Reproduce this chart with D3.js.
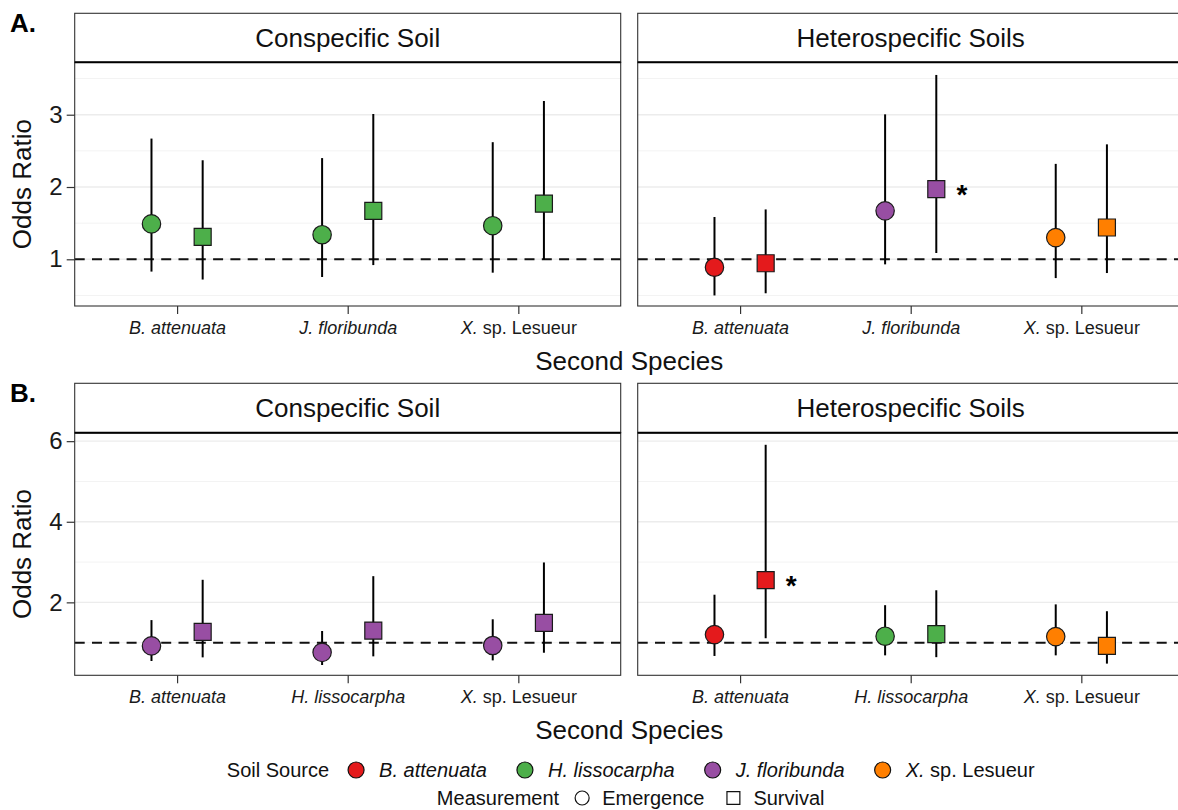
<!DOCTYPE html>
<html lang="en">
<head>
<meta charset="UTF-8">
<title>Odds ratios by soil source</title>
<style>
  body { margin: 0; background: #fff; }
  svg { display: block; font-family: "Liberation Sans", Arial, Helvetica, sans-serif; }
</style>
</head>
<body>
<svg width="1178" height="810"></svg>
<script src="https://cdnjs.cloudflare.com/ajax/libs/d3/7.8.5/d3.min.js"></script>
<script>
// ---- data ----
const soilTypes = ['Conspecific Soil', 'Heterospecific Soils'];
const soilSources = ['B. attenuata', 'H. lissocarpha', 'J. floribunda', 'X. sp. Lesueur'];
const measurements = ['Emergence', 'Survival'];

const speciesA = ['B. attenuata', 'J. floribunda', 'X. sp. Lesueur'];
const speciesB = ['B. attenuata', 'H. lissocarpha', 'X. sp. Lesueur'];

// each entry: [odds ratio, lower, upper]
const aConEmergence = [[1.49, 0.83, 2.67], [1.34, 0.755, 2.40], [1.465, 0.815, 2.62]];
const aConSurvival  = [[1.31, 0.72, 2.37], [1.67, 0.92, 3.01], [1.77, 1.00, 3.19]];
const aConSource    = ['H. lissocarpha', 'H. lissocarpha', 'H. lissocarpha'];
const aHetEmergence = [[0.89, 0.50, 1.585], [1.67, 0.93, 3.005], [1.30, 0.74, 2.32]];
const aHetSurvival  = [[0.945, 0.53, 1.69], [1.97, 1.087, 3.55], [1.44, 0.81, 2.59]];
const aHetSource    = ['B. attenuata', 'J. floribunda', 'X. sp. Lesueur'];
const aHetSig       = [false, true, false];   // asterisk next to survival

const bConEmergence = [[0.92, 0.545, 1.56], [0.76, 0.445, 1.29], [0.93, 0.56, 1.58]];
const bConSurvival  = [[1.27, 0.635, 2.56], [1.30, 0.66, 2.65], [1.49, 0.75, 2.99]];
const bConSource    = ['J. floribunda', 'J. floribunda', 'J. floribunda'];
const bHetEmergence = [[1.20, 0.67, 2.19], [1.16, 0.685, 1.93], [1.15, 0.685, 1.95]];
const bHetSurvival  = [[2.55, 1.11, 5.91], [1.21, 0.64, 2.30], [0.92, 0.48, 1.78]];
const bHetSource    = ['B. attenuata', 'H. lissocarpha', 'X. sp. Lesueur'];
const bHetSig       = [true, false, false];

const yDomainA = [0.354, 3.725], yTicksA = [1, 2, 3], yMinorA = [0.5, 1.5, 2.5, 3.5];
const yDomainB = [0.19, 6.21],   yTicksB = [2, 4, 6], yMinorB = [1, 3, 5];

// ---- setup ----
const svg = d3.select('svg');
svg.append('rect').attr('width', 1178).attr('height', 810).attr('fill', '#fff');

const soilColor = d3.scaleOrdinal()
  .domain(soilSources)
  .range(['#e41a1c', '#4daf4a', '#984ea3', '#ff7f00']);

const panelLeft = 74.7, panelW = 546, panelGap = 17;

// genus in italics, "sp. Lesueur" upright
function speciesText(sel, name) {
  sel.text(null);
  const m = name.match(/^(X\.)(\s.*)$/);
  if (m) {
    sel.append('tspan').attr('font-style', 'italic').text(m[1]);
    sel.append('tspan').attr('font-style', 'normal').text(m[2]);
  } else {
    sel.append('tspan').attr('font-style', 'italic').text(name);
  }
}

function drawRow(row) {
  const y = d3.scaleLinear().domain(row.yDomain).range([row.bottom, row.stripBottom]);

  row.panels.forEach((p, i) => {
    const x0 = panelLeft + i * (panelW + panelGap);
    const x = d3.scalePoint().domain(row.species).range([x0, x0 + panelW]).padding(0.6);
    const dodge = x.step() * 0.15;
    const g = svg.append('g');

    // grid
    g.selectAll('.minor').data(row.yMinor).enter().append('line')
      .attr('x1', x0).attr('x2', x0 + panelW)
      .attr('y1', d => y(d)).attr('y2', d => y(d))
      .attr('stroke', '#f3f3f3').attr('stroke-width', 1);
    g.selectAll('.major').data(row.yTicks).enter().append('line')
      .attr('x1', x0).attr('x2', x0 + panelW)
      .attr('y1', d => y(d)).attr('y2', d => y(d))
      .attr('stroke', '#ececec').attr('stroke-width', 1.4);

    // reference line at odds ratio 1
    g.append('line')
      .attr('x1', x0).attr('x2', x0 + panelW)
      .attr('y1', y(1)).attr('y2', y(1))
      .attr('stroke', '#111').attr('stroke-width', 2)
      .attr('stroke-dasharray', '10,7.3');

    const recs = [];
    row.species.forEach((s, k) => {
      recs.push({ sp: s, m: 'Emergence', v: p.emergence[k], src: p.source[k], off: -dodge, sig: false });
      recs.push({ sp: s, m: 'Survival', v: p.survival[k], src: p.source[k], off: dodge, sig: p.sig ? p.sig[k] : false });
    });

    g.selectAll('.err').data(recs).enter().append('line')
      .attr('x1', d => x(d.sp) + d.off).attr('x2', d => x(d.sp) + d.off)
      .attr('y1', d => y(d.v[1])).attr('y2', d => y(d.v[2]))
      .attr('stroke', '#000').attr('stroke-width', 2);

    g.selectAll('.pt').data(recs).enter().append('path')
      .attr('transform', d => `translate(${x(d.sp) + d.off},${y(d.v[0])})`)
      .attr('d', d => d.m === 'Emergence'
        ? d3.symbol(d3.symbolCircle, Math.PI * 9.2 * 9.2)()
        : d3.symbol(d3.symbolSquare, 17 * 17)())
      .attr('fill', d => soilColor(d.src))
      .attr('stroke', '#1a1a1a').attr('stroke-width', 1.2);

    g.selectAll('.star').data(recs.filter(d => d.sig)).enter().append('text')
      .attr('x', d => x(d.sp) + d.off + dodge)
      .attr('y', d => y(d.v[0]))
      .attr('dy', '0.52em')
      .attr('text-anchor', 'middle')
      .attr('font-size', 28).attr('font-weight', 'bold')
      .text('*');

    // panel border
    g.append('rect')
      .attr('x', x0).attr('y', row.stripBottom)
      .attr('width', panelW).attr('height', row.bottom - row.stripBottom)
      .attr('fill', 'none').attr('stroke', '#333').attr('stroke-width', 1.1);

    // strip
    g.append('rect')
      .attr('x', x0).attr('y', row.top)
      .attr('width', panelW).attr('height', row.stripBottom - row.top)
      .attr('fill', '#fff').attr('stroke', '#333').attr('stroke-width', 1.1);
    g.append('line')
      .attr('x1', x0).attr('x2', x0 + panelW)
      .attr('y1', row.stripBottom).attr('y2', row.stripBottom)
      .attr('stroke', '#000').attr('stroke-width', 2);
    g.append('text')
      .attr('x', x0 + panelW / 2).attr('y', (row.top + row.stripBottom) / 2)
      .attr('dy', '0.36em').attr('text-anchor', 'middle')
      .attr('font-size', 26).attr('fill', '#111')
      .text(p.title);

    // x axis
    const xa = g.append('g')
      .attr('transform', `translate(0,${row.bottom})`)
      .call(d3.axisBottom(x).tickSize(8).tickPadding(7));
    xa.select('.domain').remove();
    xa.selectAll('line').attr('stroke', '#333').attr('stroke-width', 1.2);
    xa.selectAll('text')
      .attr('font-size', 18).attr('font-family', null).attr('fill', '#1a1a1a')
      .each(function (d) { speciesText(d3.select(this), d); });

    // y axis on the left panel only
    if (i === 0) {
      const ya = g.append('g')
        .attr('transform', `translate(${x0},0)`)
        .call(d3.axisLeft(y).tickValues(row.yTicks).tickFormat(d3.format('d'))
          .tickSize(8).tickPadding(4));
      ya.select('.domain').remove();
      ya.selectAll('line').attr('stroke', '#333').attr('stroke-width', 1.2);
      ya.selectAll('text').attr('font-size', 24).attr('font-family', null).attr('fill', '#1a1a1a');
    }
  });

  // titles
  svg.append('text')
    .attr('transform', `translate(31,${(row.stripBottom + row.bottom) / 2}) rotate(-90)`)
    .attr('text-anchor', 'middle').attr('font-size', 26).attr('fill', '#111')
    .text('Odds Ratio');
  svg.append('text')
    .attr('x', panelLeft + panelW + panelGap / 2).attr('y', row.bottom + 64)
    .attr('text-anchor', 'middle').attr('font-size', 26).attr('fill', '#111')
    .text('Second Species');
  svg.append('text')
    .attr('x', 10).attr('y', row.labelY)
    .attr('font-size', 26).attr('font-weight', 'bold').attr('fill', '#000')
    .text(row.label);
}

drawRow({
  label: 'A.', labelY: 31.7, top: 13.3, stripBottom: 62.3, bottom: 306,
  species: speciesA, yDomain: yDomainA, yTicks: yTicksA, yMinor: yMinorA,
  panels: [
    { title: soilTypes[0], emergence: aConEmergence, survival: aConSurvival, source: aConSource },
    { title: soilTypes[1], emergence: aHetEmergence, survival: aHetSurvival, source: aHetSource, sig: aHetSig }
  ]
});
drawRow({
  label: 'B.', labelY: 401.7, top: 383.3, stripBottom: 432.7, bottom: 675.3,
  species: speciesB, yDomain: yDomainB, yTicks: yTicksB, yMinor: yMinorB,
  panels: [
    { title: soilTypes[0], emergence: bConEmergence, survival: bConSurvival, source: bConSource },
    { title: soilTypes[1], emergence: bHetEmergence, survival: bHetSurvival, source: bHetSource, sig: bHetSig }
  ]
});

// ---- legend ----
function legendRow(cy, title, items, gaps) {
  const g = svg.append('g');
  let cx = 0;
  const t = g.append('text').attr('x', cx).attr('y', cy).attr('dy', '0.35em')
    .attr('font-size', 20).attr('fill', '#111').text(title);
  cx += t.node().getComputedTextLength() + gaps[0];
  items.forEach((it, k) => {
    const kw = it.size * 2;
    g.append('path')
      .attr('transform', `translate(${cx + kw / 2},${cy})`)
      .attr('d', it.shape === 'square'
        ? d3.symbol(d3.symbolSquare, kw * kw * 0.85)()
        : d3.symbol(d3.symbolCircle, Math.PI * it.size * it.size)())
      .attr('fill', it.fill).attr('stroke', '#111').attr('stroke-width', 1.2);
    cx += kw + gaps[1];
    const lt = g.append('text').attr('x', cx).attr('y', cy).attr('dy', '0.35em')
      .attr('font-size', 20).attr('fill', '#111');
    if (it.italic) speciesText(lt, it.label); else lt.text(it.label);
    cx += lt.node().getComputedTextLength();
    if (k < items.length - 1) cx += gaps[2];
  });
  g.attr('transform', `translate(${630.7 - cx / 2},0)`);
}

legendRow(770, 'Soil Source',
  soilSources.map(s => ({ label: s, italic: true, shape: 'circle', size: 8, fill: soilColor(s) })),
  [19, 15, 30]);
legendRow(798, 'Measurement',
  measurements.map(m => ({ label: m, italic: false, shape: m === 'Emergence' ? 'circle' : 'square',
    size: 7, fill: '#fff' })),
  [16, 13, 22]);
</script>
</body>
</html>
